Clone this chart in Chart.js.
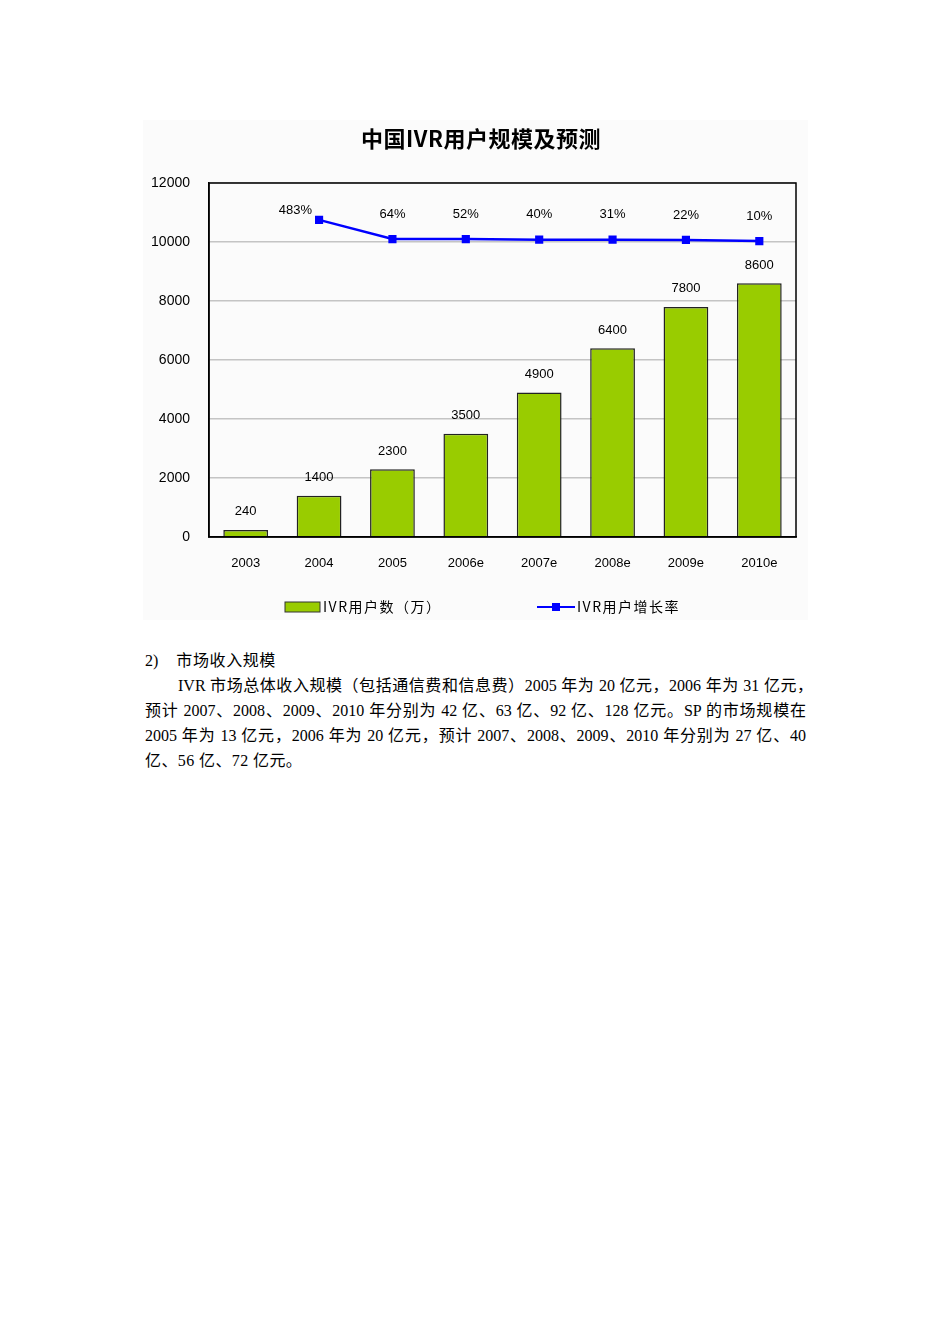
<!DOCTYPE html>
<html lang="zh-CN">
<head>
<meta charset="utf-8">
<script src="https://cdn.jsdelivr.net/npm/chart.js@4.4.1/dist/chart.umd.min.js"></script>
<style>
  html, body { margin: 0; padding: 0; background: #fff; }
  body { width: 950px; height: 1344px; position: relative; }
  #chartBox { position: absolute; left: 143px; top: 120px; width: 665px; height: 500px; }
  .txt { position: absolute; left: 145px; font-family: "Liberation Serif", "Noto Sans CJK SC", serif; font-size: 16px; color: #000; white-space: nowrap; line-height: 25px; }
  .just { white-space: normal; text-align: justify; text-align-last: justify; text-justify: inter-character; }
</style>
</head>
<body>
<div id="chartBox"><canvas id="c"></canvas></div>

<div class="txt" style="top:648px;">2)<span style="margin-left:18px; letter-spacing:0.6px;">市场收入规模</span></div>
<div class="txt just" style="top:673px; left:178px; width:635px;">IVR 市场总体收入规模（包括通信费和信息费）2005 年为 20 亿元，2006 年为 31 亿元，</div>
<div class="txt just" style="top:698px; width:661px;">预计 2007、2008、2009、2010 年分别为 42 亿、63 亿、92 亿、128 亿元。SP 的市场规模在</div>
<div class="txt just" style="top:723px; width:661px;">2005 年为 13 亿元，2006 年为 20 亿元，预计 2007、2008、2009、2010 年分别为 27 亿、40</div>
<div class="txt" style="top:748px; letter-spacing:0.4px;">亿、56 亿、72 亿元。</div>

<script>
// 图表数据
const years = ['2003', '2004', '2005', '2006e', '2007e', '2008e', '2009e', '2010e'];
const users = [240, 1400, 2300, 3500, 4900, 6400, 7800, 8600];
// 增长率折线在主轴上的位置（原图就是画在同一个轴上）
const ratePos = [null, 10750, 10100, 10100, 10080, 10080, 10070, 10030];
const rateLabels = ['', '483%', '64%', '52%', '40%', '31%', '22%', '10%'];
const yTicks = [0, 2000, 4000, 6000, 8000, 10000, 12000];
const chartTitle = '中国IVR用户规模及预测';

const tickFont = '"Liberation Sans", "DejaVu Sans", sans-serif';
const cjkFont = '"Noto Sans CJK SC", "Liberation Sans", sans-serif';

const bgPlugin = {
    id: 'bg',
    beforeDraw(chart) {
        const ctx = chart.ctx;
        ctx.save();
        ctx.fillStyle = '#fbfbfb';
        ctx.fillRect(0, 0, chart.width, chart.height);
        ctx.restore();
    }
};

// 标题、数值标签、图例、外框
const labelPlugin = {
    id: 'labels',
    afterDatasetsDraw(chart) {
        const ctx = chart.ctx;
        const area = chart.chartArea;
        ctx.save();

        ctx.fillStyle = '#000';
        ctx.textAlign = 'center';
        ctx.textBaseline = 'middle';
        ctx.font = 'bold 22px ' + cjkFont;
        ctx.letterSpacing = '0.5px';
        ctx.fillText(chartTitle, 338, 19);
        ctx.letterSpacing = '0px';

        // 外框
        ctx.strokeStyle = '#000';
        ctx.lineWidth = 1.5;
        ctx.strokeRect(area.left, area.top, area.right - area.left, area.bottom - area.top);

        ctx.font = '13px ' + tickFont;
        chart.getDatasetMeta(0).data.forEach((bar, i) => {
            ctx.fillText(String(users[i]), bar.x, bar.y - 18);
        });
        chart.getDatasetMeta(1).data.forEach((pt, i) => {
            if (!rateLabels[i]) return;
            if (i === 1) {
                ctx.textAlign = 'right';
                ctx.fillText(rateLabels[i], pt.x - 7, pt.y - 9);
                ctx.textAlign = 'center';
            } else {
                ctx.fillText(rateLabels[i], pt.x, pt.y - 25);
            }
        });

        // 图例
        const ly = 487;
        ctx.fillStyle = '#99cc00';
        ctx.strokeStyle = '#333';
        ctx.lineWidth = 1;
        ctx.fillRect(142, ly - 5, 35, 10);
        ctx.strokeRect(142, ly - 5, 35, 10);
        ctx.fillStyle = '#000';
        ctx.textAlign = 'left';
        ctx.font = '14px ' + cjkFont;
        ctx.letterSpacing = '1.5px';
        ctx.fillText('IVR用户数（万）', 180, ly);

        ctx.strokeStyle = '#0000ff';
        ctx.lineWidth = 2;
        ctx.beginPath();
        ctx.moveTo(394, ly);
        ctx.lineTo(432, ly);
        ctx.stroke();
        ctx.fillStyle = '#0000ff';
        ctx.fillRect(409, ly - 4, 8, 8);
        ctx.fillStyle = '#000';
        ctx.fillText('IVR用户增长率', 434, ly);
        ctx.letterSpacing = '0px';
        ctx.restore();
    }
};

new Chart(document.getElementById('c'), {
    type: 'bar',
    data: {
        labels: years,
        datasets: [
            {
                label: 'IVR用户数（万）',
                data: users,
                backgroundColor: '#99cc00',
                borderColor: '#222',
                borderWidth: 1.5,
                categoryPercentage: 1,
                barPercentage: 0.61,
                order: 2
            },
            {
                type: 'line',
                label: 'IVR用户增长率',
                data: ratePos,
                borderColor: '#0000ff',
                backgroundColor: '#0000ff',
                borderWidth: 2.5,
                pointStyle: 'rect',
                pointRadius: 4,
                tension: 0,
                order: 1
            }
        ]
    },
    options: {
        responsive: true,
        maintainAspectRatio: false,
        animation: false,
        layout: { padding: { left: 0, right: 12, top: 63, bottom: 0 } },
        plugins: {
            legend: { display: false },
            tooltip: { enabled: false },
            title: { display: false }
        },
        scales: {
            x: {
                grid: { display: false, drawTicks: false },
                border: { color: '#000', width: 1.5 },
                ticks: { color: '#000', font: { family: tickFont, size: 13 }, padding: 19 },
                afterFit(scale) { scale.height = 83; }
            },
            y: {
                min: 0,
                max: 12000,
                afterBuildTicks(scale) { scale.ticks = yTicks.map(v => ({ value: v })); },
                grid: { color: '#c4c4c4', lineWidth: 1.5, drawTicks: false },
                border: { color: '#000', width: 1.5 },
                ticks: {
                    color: '#000',
                    font: { family: tickFont, size: 14 },
                    padding: 19,
                    callback: v => String(v)
                },
                afterFit(scale) { scale.width = 66; }
            }
        }
    },
    plugins: [bgPlugin, labelPlugin]
});
</script>
</body>
</html>
